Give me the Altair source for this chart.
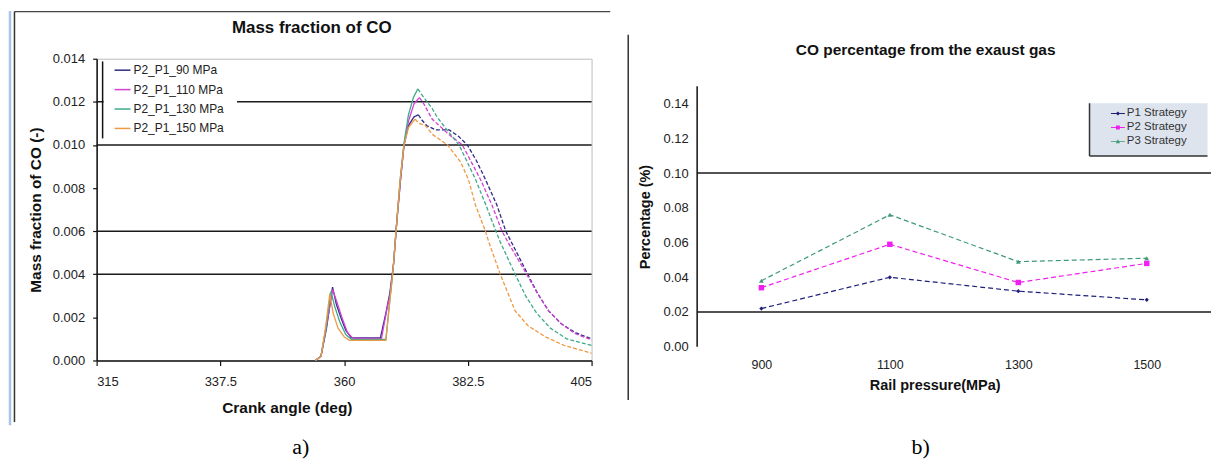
import altair as alt
import pandas as pd

FONT = "Liberation Sans"

# ---------------- panel a) : mass fraction of CO ----------------
series_a = ["P2_P1_90 MPa", "P2_P1_110 MPa", "P2_P1_130 MPa", "P2_P1_150 MPa"]
colors_a = ["#2E2A86", "#D43FD4", "#3FA88C", "#EE9A45"]

angle_90 = [354.8, 355.8, 356.8, 357.9, 358.6, 359.4, 360.3, 361.3, 366.6, 367.6, 368.3, 369.0,
            369.6, 370.3, 370.9, 371.7, 372.7, 373.5, 374.0, 375.0, 376.6, 379.1, 380.8, 382.4,
            384.0, 385.7, 387.8, 389.4, 390.8, 393.4, 395.2, 397.2, 399.5, 402.0, 405.0]
co_90 = [0, 0.0002, 0.0015, 0.0034, 0.0026, 0.0020, 0.0014, 0.00105, 0.00105, 0.0022, 0.0031, 0.0045,
         0.0065, 0.0085, 0.0100, 0.0109, 0.0113, 0.0114, 0.0112, 0.0109, 0.0107, 0.0107, 0.0104, 0.0100,
         0.0093, 0.0084, 0.0072, 0.0060, 0.0053, 0.0040, 0.0031, 0.0023, 0.0017, 0.0013, 0.0010]

angle_110 = [354.8, 355.8, 356.8, 357.9, 358.7, 359.6, 360.6, 361.6, 366.8, 367.8, 368.4, 369.0,
             369.6, 370.3, 370.9, 371.7, 372.7, 373.7, 374.5, 376.0, 379.0, 381.5, 384.8, 386.9,
             388.7, 390.0, 393.2, 395.2, 397.2, 399.5, 402.0, 405.0]
co_110 = [0, 0.0002, 0.0016, 0.0033, 0.0027, 0.0020, 0.0013, 0.00103, 0.00103, 0.0024, 0.0031, 0.0045,
          0.0065, 0.0085, 0.0100, 0.0111, 0.0119, 0.0122, 0.0119, 0.0112, 0.0105, 0.0100, 0.0084, 0.0072,
          0.0060, 0.0054, 0.0040, 0.0031, 0.0023, 0.0017, 0.00125, 0.00095]

angle_130 = [354.8, 355.8, 356.7, 357.6, 358.3, 359.2, 360.3, 361.3, 367.6, 368.2, 368.9, 369.5,
             370.2, 370.9, 371.7, 372.6, 373.4, 374.5, 376.0, 376.9, 379.0, 380.9, 383.9, 385.8,
             387.6, 388.4, 391.1, 393.0, 395.0, 397.5, 400.5, 405.0]
co_130 = [0, 0.0002, 0.0015, 0.0032, 0.0025, 0.0018, 0.0012, 0.00098, 0.00098, 0.0025, 0.0042, 0.0062,
          0.0084, 0.0101, 0.0114, 0.0122, 0.0126, 0.0122, 0.0117, 0.0113, 0.0106, 0.0100, 0.0084, 0.0072,
          0.0060, 0.0055, 0.0040, 0.0030, 0.0022, 0.0015, 0.0010, 0.0007]

angle_150 = [354.8, 355.8, 356.6, 357.4, 358.0, 358.9, 360.0, 361.0, 367.6, 368.2, 368.9, 369.5,
             370.2, 370.9, 371.7, 372.9, 373.6, 374.8, 376.0, 378.8, 381.2, 382.6, 383.9, 385.7,
             386.3, 388.4, 391.1, 393.5, 396.6, 400.0, 405.0]
co_150 = [0, 0.0002, 0.0015, 0.0031, 0.0022, 0.0015, 0.0011, 0.00093, 0.00093, 0.0025, 0.0042, 0.0062,
          0.0084, 0.0100, 0.0108, 0.0112, 0.0110, 0.0109, 0.0105, 0.0100, 0.0092, 0.0084, 0.0072, 0.0060,
          0.0055, 0.0040, 0.0023, 0.0016, 0.0011, 0.0007, 0.00034]

xticks_a = [315, 337.5, 360, 382.5, 405]
yticks_a = [0, 0.002, 0.004, 0.006, 0.008, 0.010, 0.012, 0.014]
grid_a = [0.004, 0.006, 0.010, 0.012]

# ---------------- panel b) : CO percentage ----------------
pressure_b = ["900", "1100", "1300", "1500"]
strategies_b = ["P1 Strategy", "P2 Strategy", "P3 Strategy"]
p1_b = [0.022, 0.040, 0.032, 0.027]
p2_b = [0.034, 0.059, 0.037, 0.048]
p3_b = [0.038, 0.076, 0.049, 0.051]
colors_b = ["#1F1F7A", "#F01EF0", "#3E9A78"]
shapes_b = ["diamond", "square", "triangle-up"]
sizes_b = [18, 30, 22]
legend_paths_b = [
    "M-1,-0.07H1V0.07H-1Z M0,-0.3L0.3,0L0,0.3L-0.3,0Z",
    "M-1,-0.07H1V0.07H-1Z M-0.28,-0.28H0.28V0.28H-0.28Z",
    "M-1,-0.07H1V0.07H-1Z M0,-0.3L0.3,0.25H-0.3Z",
]
yticks_b = [0, 0.02, 0.04, 0.06, 0.08, 0.10, 0.12, 0.14]
yaxis_b = [0, 0.15]          # extent of the drawn y axis line
grid_b = [0.10, 0.02]

titles = ["Mass fraction of CO", "CO percentage from the exaust gas"]
panel_labels = ["a)", "b)"]

# ---------------- build tables ----------------
rows = []
for name, angs, vals in zip(series_a, [angle_90, angle_110, angle_130, angle_150],
                            [co_90, co_110, co_130, co_150]):
    k = vals.index(max(vals))
    for a, v in zip(angs[:k + 1], vals[:k + 1]):
        rows.append({"angle": a, "co": v, "series": name, "seg": "solid"})
    for a, v in zip(angs[k:], vals[k:]):
        rows.append({"angle": a, "co": v, "series": name, "seg": "dashed"})
df_a = pd.DataFrame(rows)

rows_b = []
for name, vals in zip(strategies_b, [p1_b, p2_b, p3_b]):
    for p, v in zip(pressure_b, vals):
        rows_b.append({"pressure": p, "pct": v, "strategy": name})
df_b = pd.DataFrame(rows_b)

one = pd.DataFrame({"k": [0]})

# ---------------- panel a chart ----------------
W_A, H_A = 497, 303
xs_a = alt.Scale(domain=[315, 405], nice=False, zero=False)
ys_a = alt.Scale(domain=[0, 0.014], nice=False)

x_a = alt.X("angle:Q", scale=xs_a, axis=alt.Axis(
    values=xticks_a, labelExpr="'' + datum.value", grid=False, title="Crank angle (deg)",
    domainColor="#111", domainWidth=1.5, tickColor="#111", tickSize=5, tickWidth=1.2,
    labelPadding=10, labelFontSize=13, labelColor="#222", labelFont=FONT,
    titleFont=FONT, titleFontSize=15.5, titleFontWeight="bold", titleColor="#111",
    titleX=191, titleY=47, titleBaseline="middle", titleAlign="center"))
y_a = alt.Y("co:Q", scale=ys_a, axis=alt.Axis(
    values=yticks_a, format=".3f", grid=False, title="Mass fraction of CO (-)",
    domainColor="#111", domainWidth=1.5, tickColor="#111", tickSize=4, tickWidth=1.2,
    labelPadding=8, labelFontSize=13, labelColor="#222", labelFont=FONT,
    titleFont=FONT, titleFontSize=15.5, titleFontWeight="bold", titleColor="#111",
    titleX=-61, titleY=H_A / 2, titleBaseline="middle", titleAlign="center"))

grid_layer_a = alt.Chart(pd.DataFrame({"co": grid_a})).mark_rule(
    color="#1a1a1a", strokeWidth=1.5
).encode(y=y_a)

# white backing of the legend, hiding the gridline behind it
legend_back_a = alt.Chart(one).mark_rect(fill="white").encode(
    x=alt.value(7), x2=alt.value(141), y=alt.value(2.7), y2=alt.value(80))

lines_a = alt.Chart(df_a).mark_line(strokeWidth=1.3).encode(
    x=x_a,
    y=y_a,
    color=alt.Color("series:N", scale=alt.Scale(domain=series_a, range=colors_a),
                    legend=alt.Legend(orient="none", legendX=7, legendY=0.5, title=None,
                                      padding=2, symbolType="stroke",
                                      symbolSize=256, symbolStrokeWidth=1.5, symbolOffset=8,
                                      labelFont=FONT, labelFontSize=12, labelColor="#222",
                                      labelOffset=2, rowPadding=4.5)),
    strokeDash=alt.StrokeDash("seg:N", scale=alt.Scale(domain=["solid", "dashed"],
                                                       range=[[1, 0], [4, 2]]), legend=None),
)

deco_a = [
    alt.Chart(one).mark_rule(color="#A9C4EC", strokeWidth=2.5).encode(
        x=alt.value(-87), y=alt.value(-48), y2=alt.value(368)),
    alt.Chart(one).mark_rule(color="#333333", strokeWidth=1.5).encode(
        x=alt.value(-82.5), y=alt.value(-47.3), y2=alt.value(364.7)),
    alt.Chart(one).mark_rule(color="#444444", strokeWidth=1.5).encode(
        x=alt.value(-82.5), x2=alt.value(515.7), y=alt.value(-47.3)),
    alt.Chart(one).mark_rule(color="#111111", strokeWidth=1.5).encode(
        x=alt.value(6), y=alt.value(2.7), y2=alt.value(80)),
    alt.Chart(pd.DataFrame({"t": [titles[0]]})).mark_text(
        font=FONT, fontSize=17, fontWeight="bold", color="#111", baseline="middle", align="center"
    ).encode(x=alt.value(216), y=alt.value(-31), text="t:N"),
    alt.Chart(pd.DataFrame({"t": [panel_labels[0]]})).mark_text(
        font="Liberation Serif", fontSize=22, color="#000", baseline="middle", align="center"
    ).encode(x=alt.value(205), y=alt.value(390), text="t:N"),
]

panel_a = alt.layer(grid_layer_a, legend_back_a, lines_a, *deco_a).properties(
    width=W_A, height=H_A, view=alt.ViewBackground(stroke="#BBBBBB", strokeWidth=1)
)

# ---------------- panel b chart ----------------
# the plot area starts at the same height as panel a; its axis line stops at 0.15
W_B, H_B = 516, 289.2
AXIS_PX_B = 261.5                       # pixel length of the 0 .. 0.15 axis
TOP_B = H_B - AXIS_PX_B                 # free space above the axis line
ymax_b = yaxis_b[1] * H_B / AXIS_PX_B
xs_b = alt.Scale(type="point", domain=pressure_b, padding=0.5)
ys_b = alt.Scale(domain=[0, ymax_b], nice=False)

x_b = alt.X("pressure:O", scale=xs_b, axis=alt.Axis(
    labelAngle=0, domain=False, ticks=False, grid=False, labelPadding=12,
    labelFontSize=12.5, labelColor="#222", labelFont=FONT, title="Rail pressure(MPa)",
    titleFont=FONT, titleFontSize=14.5, titleFontWeight="bold", titleColor="#111",
    titleX=238.5, titleY=38.5, titleBaseline="middle", titleAlign="center"))
y_b = alt.Y("pct:Q", scale=ys_b, axis=alt.Axis(
    values=yticks_b, format=".2f", grid=False, ticks=False, domain=False,
    labelPadding=9, labelFontSize=13, labelColor="#222", labelFont=FONT, title="Percentage (%)",
    titleFont=FONT, titleFontSize=14.5, titleFontWeight="bold", titleColor="#111",
    titleX=-51.5, titleY=TOP_B + AXIS_PX_B / 2, titleBaseline="middle", titleAlign="center"))
col_b = alt.Scale(domain=strategies_b, range=colors_b)

axis_line_b = alt.Chart(pd.DataFrame({"pct": [yaxis_b[0]], "pct2": [yaxis_b[1]]})).mark_rule(
    color="#111", strokeWidth=1.5
).encode(x=alt.value(0), y=y_b, y2="pct2:Q")

grid_layer_b = alt.Chart(pd.DataFrame({"pct": grid_b})).mark_rule(
    color="#1a1a1a", strokeWidth=1.5
).encode(y=y_b)

LB_TOP = TOP_B + 17
legend_box_b = [
    alt.Chart(one).mark_rect(fill="#DDE4EE").encode(
        x=alt.value(394), x2=alt.value(512.5), y=alt.value(LB_TOP), y2=alt.value(LB_TOP + 53)),
    alt.Chart(one).mark_rule(color="#333", strokeWidth=1.5).encode(
        x=alt.value(394), y=alt.value(LB_TOP), y2=alt.value(LB_TOP + 53)),
    alt.Chart(one).mark_rule(color="#333", strokeWidth=1.5).encode(
        x=alt.value(394), x2=alt.value(512.5), y=alt.value(LB_TOP + 53)),
]

lines_b = alt.Chart(df_b).mark_line(strokeWidth=1.2, strokeDash=[5, 3]).encode(
    x=x_b, y=y_b, color=alt.Color("strategy:N", scale=col_b))

points_b = [
    alt.Chart(df_b).transform_filter(alt.datum.strategy == name).mark_point(
        filled=True, shape=shp, size=sz, opacity=1).encode(
        x=x_b, y=y_b, color=alt.Color("strategy:N", scale=col_b))
    for name, shp, sz in zip(strategies_b, shapes_b, sizes_b)
]

leg_b = dict(orient="none", legendX=415.5, legendY=LB_TOP + 3.3, title=None, padding=0,
             symbolSize=196, symbolOpacity=1, symbolStrokeWidth=0,
             labelFont=FONT, labelFontSize=11.5, labelColor="#333", labelOffset=2, rowPadding=1)
legend_layer_b = alt.Chart(df_b).transform_filter("false").mark_point(filled=True).encode(
    x=x_b, y=y_b,
    color=alt.Color("strategy:N", scale=col_b, legend=alt.Legend(**leg_b)),
    shape=alt.Shape("strategy:N", scale=alt.Scale(domain=strategies_b, range=legend_paths_b),
                    legend=alt.Legend(**leg_b)),
)

deco_b = [
    alt.Chart(one).mark_rule(color="#333333", strokeWidth=1.5).encode(
        x=alt.value(-69.2), y=alt.value(TOP_B - 51.7), y2=alt.value(TOP_B + 315)),
    alt.Chart(pd.DataFrame({"t": [titles[1]]})).mark_text(
        font=FONT, fontSize=15.5, fontWeight="bold", color="#111", baseline="middle", align="center"
    ).encode(x=alt.value(229.5), y=alt.value(TOP_B - 36), text="t:N"),
    alt.Chart(pd.DataFrame({"t": [panel_labels[1]]})).mark_text(
        font="Liberation Serif", fontSize=22, color="#000", baseline="middle", align="center"
    ).encode(x=alt.value(224.5), y=alt.value(TOP_B + 362), text="t:N"),
]

panel_b = alt.layer(grid_layer_b, axis_line_b, *legend_box_b, lines_b, *points_b,
                    legend_layer_b, *deco_b).properties(
    width=W_B, height=H_B, view=alt.ViewBackground(stroke="transparent")
)

chart = alt.hconcat(panel_a, panel_b, spacing=15).resolve_scale(
    color="independent", shape="independent", strokeDash="independent"
).resolve_legend(
    color="independent", shape="independent", strokeDash="independent"
).properties(
    padding={"left": 0, "top": 0, "right": 0, "bottom": 0}, background="white"
)

chart.save("out.html", embed_options={"renderer": "svg", "actions": False})
